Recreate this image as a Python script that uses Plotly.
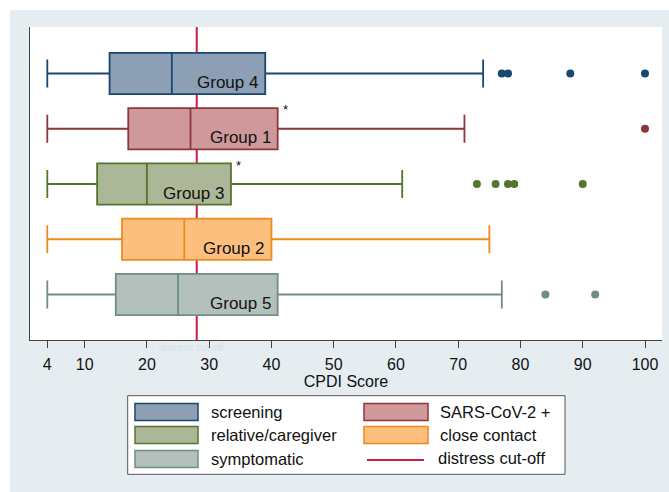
import plotly.graph_objects as go

# ---- data ----
groups      = ["Group 4", "Group 1", "Group 3", "Group 2", "Group 5"]
names       = ["screening", "SARS-CoV-2 +", "relative/caregiver", "close contact", "symptomatic"]
q1          = [14, 17, 12, 16, 15]
median      = [24, 27, 20, 26, 25]
q3          = [39, 41, 33.5, 40, 41]
lowerfence  = [4, 4, 4, 4, 4]
upperfence  = [74, 71, 61, 75, 77]
outliers    = [[77, 78, 88, 100], [100], [73, 76, 78, 79, 90], [], [84, 92]]
significant = [False, True, True, False, False]
CUTOFF      = 28
xticks      = [4, 10, 20, 30, 40, 50, 60, 70, 80, 90, 100]

line_colors = ["#1a476f", "#90353b", "#55752f", "#ee8a1c", "#6e8e84"]
fill_colors = ["#8c9fb5", "#cf999b", "#abb796", "#fdbf7e", "#b4c0bc"]
cut_color   = "#c81e45"
bg_color    = "#e5edf1"

W, H = 669, 492
ML, MR, MT, MB = 30, 7, 27, 152
PW, PH = W - ML - MR, H - MT - MB

def px(x):
    return (x - ML) / PW

def py(y):
    return (H - MB - y) / PH

fig = go.Figure()

for i, g in enumerate(groups):
    fig.add_trace(go.Box(
        y=[g], q1=[q1[i]], median=[median[i]], q3=[q3[i]],
        lowerfence=[lowerfence[i]], upperfence=[upperfence[i]],
        orientation="h", name=names[i], boxpoints=False,
        line=dict(color=line_colors[i], width=1.8),
        fillcolor=fill_colors[i], width=0.746, whiskerwidth=0.68,
        hoverinfo="skip", showlegend=False,
    ))
    if outliers[i]:
        fig.add_trace(go.Scatter(
            x=outliers[i], y=[g] * len(outliers[i]), mode="markers",
            marker=dict(color=line_colors[i], size=8),
            showlegend=False, hoverinfo="skip",
        ))

annotations = []
for i, g in enumerate(groups):
    annotations.append(dict(
        x=q3[i], y=g, xref="x", yref="y", text=g, showarrow=False,
        xanchor="right", yanchor="middle", xshift=-5, yshift=-9,
        font=dict(family="Liberation Sans, Arial", size=17, color="#111"),
    ))
    if significant[i]:
        annotations.append(dict(
            x=q3[i], y=g, xref="x", yref="y", text="*", showarrow=False,
            xanchor="left", yanchor="middle", xshift=3, yshift=19,
            font=dict(family="Liberation Sans, Arial", size=13, color="#111"),
        ))

# faint ghost label under the axis
annotations.append(dict(
    x=px(191), y=py(348), xref="paper", yref="paper", text="distress cut-off",
    showarrow=False, xanchor="center", yanchor="middle",
    font=dict(family="Liberation Sans, Arial", size=10, color="#d6e0e4"),
))

shapes = [
    # white strips at top and left of the outer background
    dict(type="rect", xref="paper", yref="paper", x0=px(-5), x1=px(W + 5),
         y0=py(10), y1=py(-5), fillcolor="white", line=dict(width=0), layer="below"),
    dict(type="rect", xref="paper", yref="paper", x0=px(-5), x1=px(10),
         y0=py(H + 5), y1=py(-5), fillcolor="white", line=dict(width=0), layer="below"),
    # cut-off line
    dict(type="line", xref="x", yref="paper", x0=CUTOFF, x1=CUTOFF, y0=0, y1=1,
         line=dict(color=cut_color, width=2), layer="below"),
    # legend frame
    dict(type="rect", xref="paper", yref="paper", x0=px(127.7), x1=px(565),
         y0=py(474.3), y1=py(395.7), fillcolor="white",
         line=dict(color="#555", width=1)),
]

# manual legend: (name index, column, row)
legend_layout = [(0, 0, 0), (1, 1, 0), (2, 0, 1), (3, 1, 1), (4, 0, 2)]
col_sw = [(135, 198), (364, 428)]
col_tx = [209, 438]
rows_c = [412, 435, 459]
for idx, c, r in legend_layout:
    x0, x1 = col_sw[c]
    shapes.append(dict(type="rect", xref="paper", yref="paper",
                       x0=px(x0), x1=px(x1), y0=py(rows_c[r] + 8.5), y1=py(rows_c[r] - 8.5),
                       fillcolor=fill_colors[idx], line=dict(color=line_colors[idx], width=1.5)))
    annotations.append(dict(x=px(col_tx[c]), y=py(rows_c[r]), xref="paper", yref="paper",
                            text=names[idx], showarrow=False, xanchor="left", yanchor="middle",
                            font=dict(family="Liberation Sans, Arial", size=16.5, color="#111")))
shapes.append(dict(type="line", xref="paper", yref="paper", x0=px(367), x1=px(424),
                   y0=py(460), y1=py(460), line=dict(color=cut_color, width=2)))
annotations.append(dict(x=px(col_tx[1] - 2), y=py(458), xref="paper", yref="paper",
                        text="distress cut-off", showarrow=False, xanchor="left", yanchor="middle",
                        font=dict(family="Liberation Sans, Arial", size=16.5, color="#111")))

fig.update_layout(
    width=W, height=H, margin=dict(l=ML, r=MR, t=MT, b=MB, pad=0),
    paper_bgcolor=bg_color, plot_bgcolor="white",
    showlegend=False, boxmode="overlay",
    shapes=shapes, annotations=annotations,
    xaxis=dict(
        range=[1.22, 102.73], tickvals=xticks, ticktext=[str(t) for t in xticks],
        showgrid=False, zeroline=False, showline=True, linecolor="#444", linewidth=1,
        ticks="outside", ticklen=7, tickcolor="#444", tickwidth=1,
        ticklabelstandoff=3,
        tickfont=dict(family="Liberation Sans, Arial", size=16, color="#111"),
        title=dict(text="CPDI Score", standoff=0,
                   font=dict(family="Liberation Sans, Arial", size=16, color="#111")),
    ),
    yaxis=dict(
        type="category", categoryorder="array", categoryarray=groups,
        range=[4.824, -0.842], showticklabels=False, ticks="",
        showgrid=False, zeroline=False, showline=True, linecolor="#444", linewidth=1,
    ),
)

fig.write_html(
    "out.html",
    config={"displayModeBar": False, "staticPlot": True},
    post_script="document.body.style.margin='0';document.body.style.padding='0';"
                "document.body.style.overflow='hidden';",
)
